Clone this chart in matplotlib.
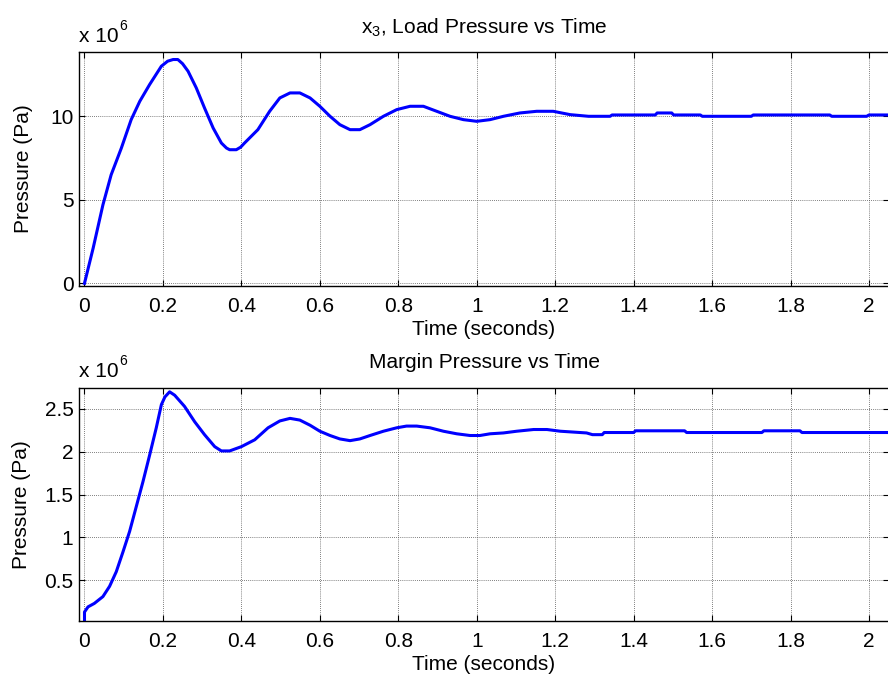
import matplotlib
matplotlib.use("Agg")
import matplotlib.pyplot as plt

plt.rcParams["font.family"] = ["Liberation Sans", "DejaVu Sans"]
plt.rcParams["mathtext.fontset"] = "custom"
plt.rcParams["mathtext.rm"] = "Liberation Sans"
plt.rcParams["mathtext.it"] = "Liberation Sans"
plt.rcParams["mathtext.default"] = "regular"

# Load pressure x3 (units of 1e6 Pa)
t_load = [0.0, 0.022, 0.047, 0.068, 0.094, 0.119, 0.141, 0.166, 0.196, 0.212,
          0.226, 0.238, 0.250, 0.264, 0.285, 0.306, 0.328, 0.349, 0.362, 0.370,
          0.387, 0.398, 0.408, 0.442, 0.472, 0.498, 0.524, 0.549, 0.575, 0.600,
          0.626, 0.651, 0.677, 0.702, 0.728, 0.762, 0.796, 0.830, 0.864, 0.898,
          0.932, 0.966, 1.000, 1.034, 1.068, 1.110, 1.153, 1.195, 1.238, 1.285,
          1.340, 1.345, 1.455, 1.460, 1.497, 1.502, 1.570, 1.575, 1.700, 1.705,
          1.900, 1.905, 1.994, 2.000, 2.060]
p_load = [0.0, 2.1, 4.7, 6.5, 8.1, 9.8, 10.9, 11.9, 13.0, 13.3,
          13.4, 13.4, 13.15, 12.7, 11.7, 10.5, 9.3, 8.4, 8.1, 8.0,
          8.0, 8.15, 8.4, 9.2, 10.3, 11.1, 11.4, 11.4, 11.1, 10.6,
          10.0, 9.5, 9.2, 9.2, 9.5, 10.0, 10.4, 10.6, 10.6, 10.3,
          10.0, 9.8, 9.7, 9.8, 10.0, 10.2, 10.3, 10.3, 10.1, 10.0,
          10.0, 10.08, 10.08, 10.2, 10.2, 10.08, 10.08, 10.0, 10.0, 10.08,
          10.08, 10.0, 10.0, 10.08, 10.08]

# Margin pressure (units of 1e6 Pa)
t_margin = [0.0, 0.0, 0.009, 0.025, 0.047, 0.064, 0.081, 0.098, 0.115, 0.132,
            0.149, 0.166, 0.183, 0.196, 0.205, 0.217, 0.230, 0.255, 0.281, 0.306,
            0.332, 0.349, 0.370, 0.400, 0.434, 0.468, 0.498, 0.524, 0.549, 0.575,
            0.600, 0.626, 0.651, 0.677, 0.702, 0.728, 0.762, 0.796, 0.821, 0.847,
            0.881, 0.915, 0.949, 0.983, 1.008, 1.034, 1.068, 1.102, 1.145, 1.179,
            1.213, 1.280, 1.295, 1.320, 1.325, 1.400, 1.405, 1.530, 1.535, 1.727,
            1.732, 1.824, 1.829, 2.060]
p_margin = [0.04, 0.13, 0.19, 0.23, 0.31, 0.43, 0.60, 0.83, 1.07, 1.36,
            1.65, 1.96, 2.28, 2.55, 2.64, 2.70, 2.66, 2.53, 2.35, 2.20,
            2.06, 2.01, 2.01, 2.06, 2.14, 2.28, 2.36, 2.39, 2.37, 2.31,
            2.24, 2.19, 2.15, 2.13, 2.15, 2.19, 2.24, 2.28, 2.30, 2.30,
            2.28, 2.24, 2.21, 2.19, 2.19, 2.21, 2.22, 2.24, 2.26, 2.26,
            2.24, 2.22, 2.20, 2.20, 2.225, 2.225, 2.245, 2.245, 2.225, 2.225,
            2.245, 2.245, 2.225, 2.225]

x_ticks = [0, 0.2, 0.4, 0.6, 0.8, 1.0, 1.2, 1.4, 1.6, 1.8, 2.0]
x_ticklabels = ["0", "0.2", "0.4", "0.6", "0.8", "1", "1.2", "1.4", "1.6", "1.8", "2"]
load_yticks = [0, 5, 10]
load_yticklabels = ["0", "5", "10"]
margin_yticks = [0.5, 1.0, 1.5, 2.0, 2.5]
margin_yticklabels = ["0.5", "1", "1.5", "2", "2.5"]

W, H = 888, 684
FS = 15
fig = plt.figure(figsize=(W / 100, H / 100), dpi=100)


def px_axes(left, top, right, bottom):
    return fig.add_axes([left / W, 1 - bottom / H, (right - left) / W, (bottom - top) / H])


def style(ax, yticks, yticklabels, ylim):
    ax.set_xlim(-0.014, 2.051)
    ax.set_ylim(*ylim)
    ax.set_xticks(x_ticks)
    ax.set_xticklabels(x_ticklabels)
    ax.set_yticks(yticks)
    ax.set_yticklabels(yticklabels)
    ax.tick_params(direction="in", length=4.5, width=0.8, top=True, right=True,
                   labelsize=FS, colors="black")
    ax.tick_params(axis="x", pad=8)
    ax.tick_params(axis="y", pad=4)
    ax.grid(True, color="#555555", linestyle=(0, (1, 1.5)), linewidth=0.6)
    for s in ax.spines.values():
        s.set_linewidth(1.0)
        s.set_color("black")
    ax.set_xlabel("Time (seconds)", fontsize=FS, labelpad=3)


def exponent_label(baseline_y, sup_baseline_y):
    fig.text(79 / W, 1 - baseline_y / H, "x 10", fontsize=FS, ha="left", va="baseline")
    fig.text(119 / W, 1 - sup_baseline_y / H, "6", fontsize=10, ha="left", va="baseline")


ax1 = px_axes(79, 52, 889, 286)
ax1.plot(t_load, p_load, color="#0000ff", linewidth=2.2)
style(ax1, load_yticks, load_yticklabels, (-0.16, 13.85))
ax1.set_title("x$_3$, Load Pressure vs Time", fontsize=FS, pad=13)
ax1.set_ylabel("Pressure (Pa)", fontsize=FS)
ax1.yaxis.set_label_coords(-0.057, 0.5)
exponent_label(42, 30)

ax2 = px_axes(79, 387.7, 889, 621)
ax2.plot(t_margin, p_margin, color="#0000ff", linewidth=2.2)
style(ax2, margin_yticks, margin_yticklabels, (0.025, 2.748))
ax2.set_title("Margin Pressure vs Time", fontsize=FS, pad=14)
ax2.set_ylabel("Pressure (Pa)", fontsize=FS)
ax2.yaxis.set_label_coords(-0.059, 0.5)
exponent_label(377, 365)

fig.savefig("out.png", dpi=100, facecolor="white")
